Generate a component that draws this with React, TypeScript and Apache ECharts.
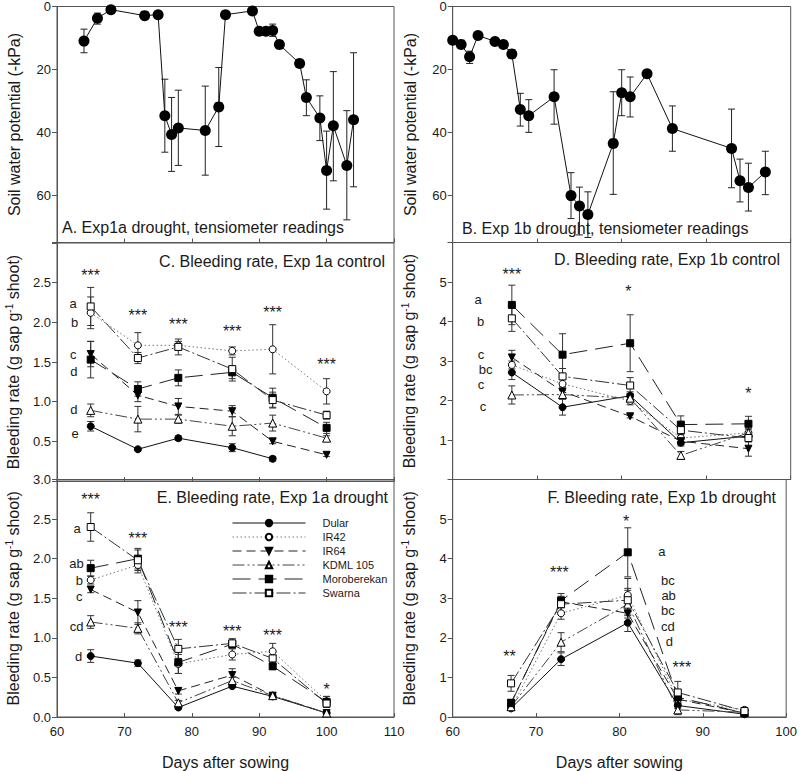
import React, { useEffect, useRef } from 'react';
import * as echarts from 'echarts';

const FONT = '"Liberation Sans", Arial, Helvetica, sans-serif';
const INK = '#1a1a1a';
const FRAME = '#555';

const cultivars = ['Dular', 'IR42', 'IR64', 'KDML 105', 'Moroberekan', 'Swarna'];

// ---------- Panel A: Exp 1a drought tensiometer ----------
const daysA = [64, 66, 68, 73, 75, 76, 77, 78, 82, 84, 85, 89, 90, 91, 92, 93, 96, 97, 99, 100, 101, 103, 104];
const swpA = [11.0, 3.7, 1.0, 2.9, 2.6, 34.7, 40.7, 38.6, 39.4, 31.9, 2.6, 1.4, 7.9, 7.9, 7.6, 12.1, 18.1, 28.9, 35.4, 52.1, 37.9, 50.5, 36.0];
const swpALow = [7.2, 2.1, null, null, null, 23.1, 28.9, 26.6, 25.3, 19.4, 1.6, null, 7.0, 7.0, 5.6, 10.8, 16.8, 23.3, 28.4, 39.6, 20.7, 33.1, 14.7];
const swpAHigh = [14.7, 5.6, null, null, null, 46.3, 52.4, 50.5, 53.6, 44.5, 3.6, null, 9.0, 9.0, 9.5, 13.4, 19.3, 34.7, 42.6, 64.4, 55.4, 67.8, 57.3];

// ---------- Panel B: Exp 1b drought tensiometer ----------
const daysB = [60, 61, 62, 63, 65, 66, 67, 68, 69, 72, 74, 75, 76, 79, 80, 81, 83, 86, 93, 94, 95, 97];
const swpB = [10.7, 12.1, 16.0, 9.2, 11.1, 12.1, 15.1, 32.7, 34.7, 28.7, 60.1, 63.4, 66.1, 43.5, 27.4, 28.7, 21.4, 38.8, 45.1, 55.4, 57.5, 52.6];
const swpBLow = [null, 10.7, 14.2, null, null, null, 13.7, 27.6, 29.6, 20.1, 52.8, 57.4, 58.9, 27.1, 20.1, 22.4, null, 31.6, 32.6, 48.5, 49.8, 46.0];
const swpBHigh = [null, 13.2, 18.1, null, null, null, 16.5, 38.0, 40.0, 37.4, 67.4, 72.6, 73.4, 59.7, 34.7, 35.1, null, 46.0, 57.6, 62.1, 65.0, 59.8];

// ---------- Panel C: Exp 1a control ----------
const daysC = [65, 72, 78, 86, 92, 100];
const C_Dular = [0.69, 0.40, 0.54, 0.42, 0.28, null];
const C_Dular_se = [0.06, 0.02, 0.03, 0.05, 0.03, null];
const C_IR42 = [2.12, 1.71, 1.71, 1.64, 1.66, 1.13];
const C_IR42_se = [0.20, 0.16, 0.05, 0.05, 0.31, 0.16];
const C_IR64 = [1.60, 1.08, 0.94, 0.88, 0.50, 0.33];
const C_IR64_se = [0.16, 0.08, 0.10, 0.07, 0.03, 0.02];
const C_KDML = [0.89, 0.78, 0.78, 0.69, 0.73, 0.54];
const C_KDML_se = [0.08, 0.16, 0.05, 0.12, 0.10, 0.03];
const C_Morob = [1.53, 1.16, 1.30, 1.37, 1.05, 0.67];
const C_Morob_se = [0.23, 0.09, 0.10, 0.08, 0.12, 0.07];
const C_Swarna = [2.20, 1.55, 1.69, 1.41, 1.02, 0.83];
const C_Swarna_se = [0.24, 0.07, 0.10, 0.15, 0.10, 0.05];
const starsC_y = [2.59, 2.08, 1.97, 1.88, 2.12, 1.47];
const starsC_t = ['***', '***', '***', '***', '***', '***'];
const lettersC_t = ['a', 'b', 'c', 'd', 'd', 'e'];
const lettersC_x = [62.4, 62.6, 62.4, 62.5, 62.5, 62.7];
const lettersC_y = [2.24, 2.00, 1.59, 1.38, 0.90, 0.60];

// ---------- Panel D: Exp 1b control ----------
const daysD = [67, 73, 81, 87, 95];
const D_Dular = [2.71, 1.83, 2.12, 0.93, 1.10];
const D_Dular_se = [0.18, 0.20, 0.10, 0.08, 0.10];
const D_IR42 = [2.90, 2.42, 1.99, 1.05, 1.18];
const D_IR42_se = [0.10, 0.15, 0.10, 0.10, 0.10];
const D_IR64 = [3.09, 2.23, 1.60, 0.97, 0.78];
const D_IR64_se = [0.18, 0.12, 0.04, 0.08, 0.19];
const D_KDML = [2.14, 2.15, 2.06, 0.61, 1.18];
const D_KDML_se = [0.23, 0.10, 0.10, 0.10, 0.10];
const D_Morob = [4.42, 3.16, 3.45, 1.39, 1.41];
const D_Morob_se = [0.50, 0.53, 0.72, 0.22, 0.19];
const D_Swarna = [4.08, 2.61, 2.38, 1.25, 1.05];
const D_Swarna_se = [0.33, 0.20, 0.20, 0.12, 0.10];
const starsD_x = [67, 80.8, 95];
const starsD_y = [5.20, 4.77, 2.17];
const starsD_t = ['***', '*', '*'];
const lettersD_t = ['a', 'b', 'c', 'bc', 'c', 'c'];
const lettersD_x = [63.0, 63.3, 63.35, 63.9, 63.35, 63.6];
const lettersD_y = [4.55, 4.00, 3.16, 2.78, 2.40, 1.85];

// ---------- Panel E: Exp 1a drought ----------
const daysE = [65, 72, 78, 86, 92, 100];
const E_Dular = [0.77, 0.68, 0.12, 0.39, 0.26, 0.05];
const E_Dular_se = [0.08, 0.04, 0.02, 0.02, 0.03, 0.01];
const E_IR42 = [1.73, 1.92, 0.67, 0.79, 0.83, 0.20];
const E_IR42_se = [0.05, 0.10, 0.12, 0.07, 0.10, 0.06];
const E_IR64 = [1.61, 1.32, 0.33, 0.53, 0.27, 0.05];
const E_IR64_se = [0.04, 0.15, 0.04, 0.08, 0.02, 0.01];
const E_KDML = [1.20, 1.12, 0.18, 0.46, 0.27, 0.05];
const E_KDML_se = [0.08, 0.07, 0.03, 0.04, 0.03, 0.01];
const E_Morob = [1.88, 2.00, 0.69, 0.92, 0.64, 0.19];
const E_Morob_se = [0.10, 0.13, 0.14, 0.05, 0.04, 0.07];
const E_Swarna = [2.40, 1.98, 0.86, 0.93, 0.74, 0.17];
const E_Swarna_se = [0.18, 0.13, 0.12, 0.06, 0.08, 0.05];
const starsE_y = [2.75, 2.25, 1.13, 1.08, 1.03, 0.35];
const starsE_t = ['***', '***', '***', '***', '***', '*'];
const lettersE_t = ['a', 'ab', 'b', 'c', 'cd', 'd'];
const lettersE_x = [63.0, 62.9, 63.3, 63.3, 62.9, 63.2];
const lettersE_y = [2.38, 1.94, 1.72, 1.52, 1.14, 0.77];

// ---------- Panel F: Exp 1b drought ----------
const daysF = [67, 73, 81, 87, 95];
const F_Dular = [0.22, 1.46, 2.38, 0.29, 0.07];
const F_Dular_se = [0.04, 0.16, 0.22, 0.08, 0.02];
const F_IR42 = [0.22, 2.62, 3.08, 0.45, 0.18];
const F_IR42_se = [0.05, 0.15, 0.42, 0.10, 0.03];
const F_IR64 = [0.36, 2.91, 2.62, 0.45, 0.10];
const F_IR64_se = [0.06, 0.10, 0.06, 0.10, 0.02];
const F_KDML = [0.26, 1.89, 2.85, 0.18, 0.12];
const F_KDML_se = [0.05, 0.24, 0.35, 0.12, 0.02];
const F_Morob = [0.35, 2.94, 4.16, 0.50, 0.10];
const F_Morob_se = [0.08, 0.18, 0.62, 0.10, 0.02];
const F_Swarna = [0.85, 2.85, 2.95, 0.62, 0.15];
const F_Swarna_se = [0.20, 0.20, 0.30, 0.28, 0.03];
const starsF_x = [66.8, 72.8, 80.8, 87.5];
const starsF_y = [1.52, 3.64, 4.94, 1.24];
const starsF_t = ['**', '***', '*', '***'];
const lettersF_t = ['a', 'bc', 'ab', 'bc', 'cd', 'd'];
const lettersF_x = [85.1, 85.8, 85.9, 85.8, 85.8, 86.0];
const lettersF_y = [4.17, 3.46, 3.07, 2.68, 2.29, 1.90];

// ---------- styles ----------
const downTriangle = 'path://M0,0 L10,0 L5,9 Z';
const cultivarStyle: Record<string, any> = {
  'Dular': { symbol: 'circle', fill: '#000', dash: 'solid', line: '#111', size: 7 },
  'IR42': { symbol: 'circle', fill: '#fff', dash: [1.5, 2.5], line: '#777', size: 7 },
  'IR64': { symbol: downTriangle, fill: '#000', dash: [9, 5], line: '#222', size: 7 },
  'KDML 105': { symbol: 'triangle', fill: '#fff', dash: [12, 3, 2, 3, 2, 3], line: '#444', size: 8 },
  'Moroberekan': { symbol: 'rect', fill: '#000', dash: [18, 8], line: '#222', size: 7 },
  'Swarna': { symbol: 'rect', fill: '#fff', dash: [14, 3, 2, 3], line: '#333', size: 7 },
};

const panels = [
  { grid: 2, days: daysC, means: [C_Dular, C_IR42, C_IR64, C_KDML, C_Morob, C_Swarna], ses: [C_Dular_se, C_IR42_se, C_IR64_se, C_KDML_se, C_Morob_se, C_Swarna_se] },
  { grid: 3, days: daysD, means: [D_Dular, D_IR42, D_IR64, D_KDML, D_Morob, D_Swarna], ses: [D_Dular_se, D_IR42_se, D_IR64_se, D_KDML_se, D_Morob_se, D_Swarna_se] },
  { grid: 4, days: daysE, means: [E_Dular, E_IR42, E_IR64, E_KDML, E_Morob, E_Swarna], ses: [E_Dular_se, E_IR42_se, E_IR64_se, E_KDML_se, E_Morob_se, E_Swarna_se] },
  { grid: 5, days: daysF, means: [F_Dular, F_IR42, F_IR64, F_KDML, F_Morob, F_Swarna], ses: [F_Dular_se, F_IR42_se, F_IR64_se, F_KDML_se, F_Morob_se, F_Swarna_se] },
];

const errRender = (cap: number, color: string) => (params: any, api: any) => {
  const x = api.value(0);
  const lo = api.coord([x, api.value(1)]);
  const hi = api.coord([x, api.value(2)]);
  const style = { stroke: color, lineWidth: 1, fill: null };
  return {
    type: 'group',
    children: [
      { type: 'line', shape: { x1: lo[0], y1: lo[1], x2: hi[0], y2: hi[1] }, style },
      { type: 'line', shape: { x1: lo[0] - cap, y1: lo[1], x2: lo[0] + cap, y2: lo[1] }, style },
      { type: 'line', shape: { x1: hi[0] - cap, y1: hi[1], x2: hi[0] + cap, y2: hi[1] }, style },
    ],
  };
};

const textRender = (texts: string[], size: number, lineHeight: number) => (params: any, api: any) => {
  const p = api.coord([api.value(0), api.value(1)]);
  return {
    type: 'text',
    x: p[0],
    y: p[1],
    style: {
      text: texts[params.dataIndex],
      fontSize: size,
      fontFamily: FONT,
      fill: INK,
      align: 'center',
      verticalAlign: 'middle',
      lineHeight,
    },
  };
};

function textSeries(grid: number, xs: number[], ys: number[], texts: string[], size: number, lineHeight: number) {
  return {
    type: 'custom',
    xAxisIndex: grid,
    yAxisIndex: grid,
    silent: true,
    z: 5,
    data: xs.map((x, i) => [x, ys[i]]),
    encode: { x: 0, y: 1 },
    renderItem: textRender(texts, size, lineHeight),
  };
}

function buildOption() {
  const grids = [
    { left: 57, top: 5, width: 337, height: 237.5 },
    { left: 452.7, top: 5, width: 338, height: 237.5 },
    { left: 57, top: 243, width: 337, height: 238 },
    { left: 452.7, top: 242.5, width: 338, height: 237 },
    { left: 57, top: 479.5, width: 337, height: 237.5 },
    { left: 452.7, top: 479.5, width: 338, height: 237.5 },
  ].map((g) => ({ ...g, show: true, borderColor: FRAME, borderWidth: 1, backgroundColor: 'transparent', containLabel: false }));

  const xAxes = grids.map((_, i) => ({
    type: 'value',
    gridIndex: i,
    min: 60,
    max: i % 2 === 0 ? 110 : 100,
    interval: 10,
    axisLine: { show: true, onZero: false, lineStyle: { color: FRAME, width: 1 } },
    axisTick: { show: true, inside: true, length: 4, lineStyle: { color: FRAME } },
    axisLabel: { show: i >= 4, fontSize: 13, fontFamily: FONT, color: INK, margin: 8 },
    splitLine: { show: false },
    name: i >= 4 ? 'Days after sowing' : '',
    nameLocation: 'middle',
    nameGap: 37,
    nameTextStyle: { fontSize: 16, fontFamily: FONT, color: INK },
  }));

  const bleedName = '{a|Bleeding rate (g sap g}{s|-1}{a| shoot)}';
  const nameStyle = {
    fontSize: 16,
    fontFamily: FONT,
    color: INK,
    rich: {
      a: { fontSize: 16, fontFamily: FONT, color: INK, lineHeight: 18 },
      s: { fontSize: 10, fontFamily: FONT, color: INK, lineHeight: 10, verticalAlign: 'top' },
    },
  };
  const yCommon = (i: number) => ({
    type: 'value',
    gridIndex: i,
    axisLine: { show: true, onZero: false, lineStyle: { color: FRAME, width: 1 } },
    axisTick: { show: true, inside: false, length: 5, lineStyle: { color: FRAME } },
    splitLine: { show: false },
    nameLocation: 'middle',
    nameGap: i % 2 === 0 ? 35 : 34,
    nameTextStyle: nameStyle,
  });
  const lab = (fmt: (v: number) => string) => ({ fontSize: 13, fontFamily: FONT, color: INK, margin: 6, formatter: fmt });

  const yAxes = [
    { ...yCommon(0), min: 0, max: 75, interval: 20, inverse: true, name: 'Soil water potential (-kPa)', axisLabel: lab((v) => (v % 20 === 0 ? String(v) : '')) },
    { ...yCommon(1), min: 0, max: 75, interval: 20, inverse: true, name: 'Soil water potential (-kPa)', axisLabel: lab((v) => (v % 20 === 0 ? String(v) : '')) },
    { ...yCommon(2), min: 0, max: 3, interval: 0.5, name: bleedName, axisLabel: lab((v) => (v <= 0 || v >= 3 ? '' : v.toFixed(1))) },
    { ...yCommon(3), min: 0, max: 6, interval: 1, name: bleedName, axisLabel: lab((v) => (v <= 0 || v >= 6 ? '' : String(v))) },
    { ...yCommon(4), min: 0, max: 3, interval: 0.5, name: bleedName, axisLabel: lab((v) => v.toFixed(1)) },
    { ...yCommon(5), min: 0, max: 6, interval: 1, name: bleedName, axisLabel: lab((v) => (v >= 6 ? '' : String(v))) },
  ];

  const series: any[] = [];

  // Bleeding-rate panels
  panels.forEach((p) => {
    cultivars.forEach((c, k) => {
      const st = cultivarStyle[c];
      const m = p.means[k];
      const se = p.ses[k];
      series.push({
        type: 'custom',
        xAxisIndex: p.grid,
        yAxisIndex: p.grid,
        silent: true,
        z: 1,
        data: p.days
          .map((d, i) => (m[i] == null || se[i] == null ? null : [d, (m[i] as number) - (se[i] as number), (m[i] as number) + (se[i] as number)]))
          .filter((v) => v != null),
        encode: { x: 0, y: [1, 2] },
        renderItem: errRender(3.5, '#333'),
      });
      series.push({
        type: 'line',
        name: c,
        xAxisIndex: p.grid,
        yAxisIndex: p.grid,
        z: 3,
        data: p.days.map((d, i) => [d, m[i]]).filter((v) => v[1] != null),
        symbol: st.symbol,
        symbolSize: st.size,
        showAllSymbol: true,
        itemStyle: { color: st.fill, borderColor: '#000', borderWidth: 1, opacity: 1 },
        lineStyle: { color: st.line, width: 1, type: st.dash },
        emphasis: { disabled: true },
      });
    });
  });

  // Tensiometer panels
  [
    { grid: 0, days: daysA, v: swpA, lo: swpALow, hi: swpAHigh, name: 'Exp 1a soil water potential' },
    { grid: 1, days: daysB, v: swpB, lo: swpBLow, hi: swpBHigh, name: 'Exp 1b soil water potential' },
  ].forEach((p) => {
    series.push({
      type: 'custom',
      xAxisIndex: p.grid,
      yAxisIndex: p.grid,
      silent: true,
      z: 1,
      data: p.days.map((d, i) => (p.lo[i] == null ? null : [d, p.lo[i], p.hi[i]])).filter((v) => v != null),
      encode: { x: 0, y: [1, 2] },
      renderItem: errRender(3.5, '#222'),
    });
    series.push({
      type: 'line',
      name: p.name,
      xAxisIndex: p.grid,
      yAxisIndex: p.grid,
      z: 3,
      data: p.days.map((d, i) => [d, p.v[i]]),
      symbol: 'circle',
      symbolSize: 11,
      showAllSymbol: true,
      itemStyle: { color: '#000', borderColor: '#000', borderWidth: 0 },
      lineStyle: { color: '#111', width: 1 },
      emphasis: { disabled: true },
    });
  });

  // Significance stars and letters
  series.push(textSeries(2, daysC, starsC_y, starsC_t, 16, 16));
  series.push(textSeries(3, starsD_x, starsD_y, starsD_t, 16, 16));
  series.push(textSeries(4, daysE, starsE_y, starsE_t, 16, 16));
  series.push(textSeries(5, starsF_x, starsF_y, starsF_t, 16, 16));
  series.push(textSeries(2, lettersC_x, lettersC_y, lettersC_t, 13, 12));
  series.push(textSeries(3, lettersD_x, lettersD_y, lettersD_t, 13, 12));
  series.push(textSeries(4, lettersE_x, lettersE_y, lettersE_t, 13, 12));
  series.push(textSeries(5, lettersF_x, lettersF_y, lettersF_t, 13, 12));

  const title = (text: string, x: number, y: number, align: string) => ({
    type: 'text',
    x,
    y,
    silent: true,
    style: { text, fontSize: 16, fontFamily: FONT, fill: INK, align, verticalAlign: 'middle' },
  });

  return {
    animation: false,
    backgroundColor: '#fff',
    grid: grids,
    xAxis: xAxes,
    yAxis: yAxes,
    legend: {
      data: cultivars,
      orient: 'vertical',
      left: 227,
      top: 511,
      itemWidth: 73,
      itemHeight: 8,
      itemGap: 0,
      selectedMode: false,
      lineStyle: { width: 1 },
      textStyle: { fontSize: 11, fontFamily: FONT, color: INK, lineHeight: 14, padding: [0, 0, 0, 12] },
    },
    graphic: [
      title('A. Exp1a drought, tensiometer readings', 62, 227, 'left'),
      title('B. Exp 1b drought, tensiometer readings', 462, 228, 'left'),
      title('C. Bleeding rate, Exp 1a control', 385, 261, 'right'),
      title('D. Bleeding rate, Exp 1b control', 780, 259, 'right'),
      title('E. Bleeding rate, Exp 1a drought', 388, 497, 'right'),
      title('F. Bleeding rate, Exp 1b drought', 776, 497, 'right'),
    ],
    series,
  };
}

export default function App() {
  const ref = useRef<HTMLDivElement>(null);
  useEffect(() => {
    if (!ref.current) return;
    const chart = echarts.init(ref.current, undefined, { renderer: 'svg' });
    chart.setOption(buildOption() as any);
    return () => chart.dispose();
  }, []);
  return (
    <div
      ref={ref}
      style={{ position: 'fixed', left: 0, top: 0, width: 800, height: 771, background: '#fff' }}
    />
  );
}
